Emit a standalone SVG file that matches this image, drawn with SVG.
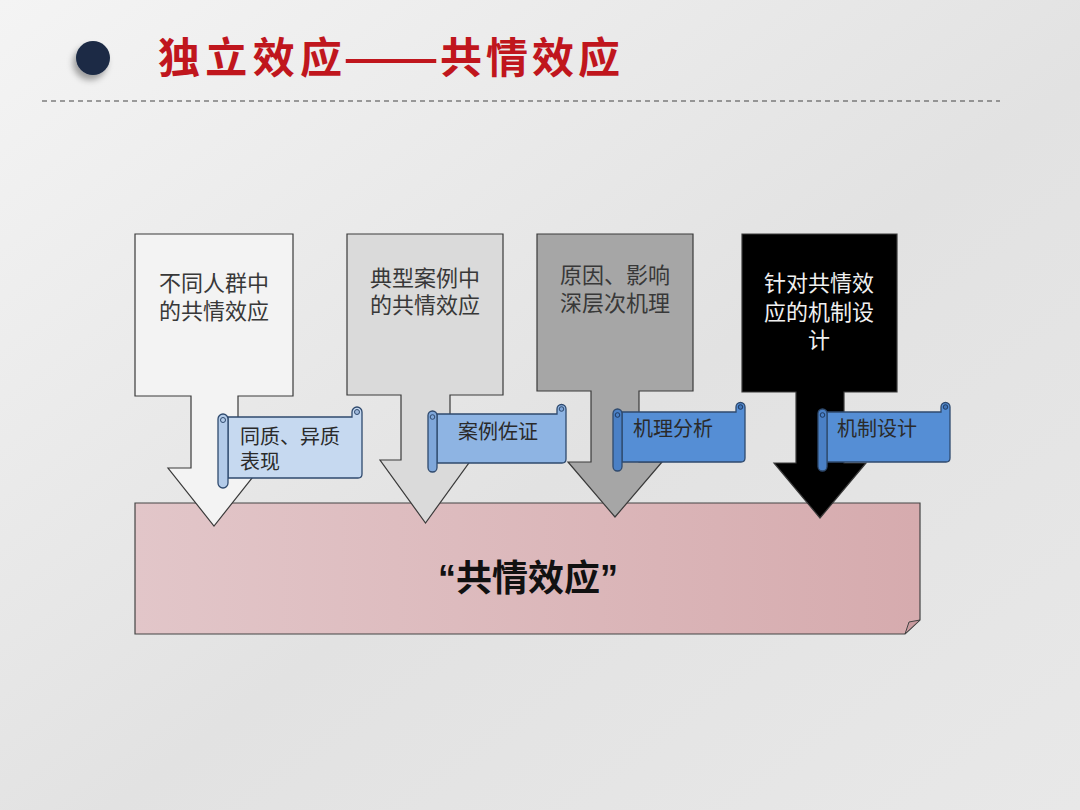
<svg xmlns="http://www.w3.org/2000/svg" width="1080" height="810" viewBox="0 0 1080 810">
<defs>
  <linearGradient id="bg" x1="0" y1="0" x2="1" y2="1">
    <stop offset="0" stop-color="#f4f4f4"/>
    <stop offset="0.55" stop-color="#e2e2e2"/>
    <stop offset="1" stop-color="#e8e8e8"/>
  </linearGradient>
  <linearGradient id="pink" x1="0" y1="0" x2="1" y2="0">
    <stop offset="0" stop-color="#e2c6c9"/>
    <stop offset="1" stop-color="#d6abae"/>
  </linearGradient>
  <filter id="sh" x="-50%" y="-50%" width="200%" height="200%">
    <feDropShadow dx="-3" dy="5" stdDeviation="3" flood-color="#000" flood-opacity="0.35"/>
  </filter>
  <style>
    .arrow{stroke:#3a3a3a;stroke-width:1.2}
    .lbl{font-family:"Noto Sans CJK SC","Noto Sans",sans-serif;font-size:22px;fill:#383838;text-anchor:middle}
    .blbl{font-family:"Noto Sans CJK SC","Noto Sans",sans-serif;font-size:20px;fill:#2a2a2a}
    .scroll{stroke:#2f4a6e;stroke-width:1.3}
    .ttl{font-family:"Noto Sans CJK SC",sans-serif;font-size:42px;font-weight:bold;fill:#c0161d}
  </style>
</defs>
<rect width="1080" height="810" fill="url(#bg)"/>

<g id="title">
  <circle cx="93" cy="58" r="17" fill="#1b2b45" filter="url(#sh)"/>
  <text class="ttl" x="158" y="73" textLength="184" lengthAdjust="spacing">独立效应</text>
  <text class="ttl" x="343" y="73" textLength="96" lengthAdjust="spacingAndGlyphs">——</text>
  <text class="ttl" x="440" y="73" textLength="180" lengthAdjust="spacing">共情效应</text>
  <line x1="42" y1="101" x2="1000" y2="101" stroke="#444" stroke-width="1.2" stroke-dasharray="5 4"/>
</g>

<g id="base">
  <path d="M135,503 H920 V620 L905,634 H135 Z" fill="url(#pink)" stroke="#444" stroke-width="1.2"/>
  <path d="M905,634 L909,622 L920,620 Z" fill="#c89a9e" stroke="#444" stroke-width="1"/>
  <text x="528" y="591" font-family="Liberation Sans, Noto Sans CJK SC, sans-serif" font-size="36" font-weight="bold" fill="#111" text-anchor="middle">“共情效应”</text>
</g>

<g id="arrow1">
  <path class="arrow" fill="#f3f3f3" d="M135,234 H293 V396 H238 V468 H260 L214,526 L168,468 H191 V396 H135 Z"/>
  <text class="lbl" x="214" y="291">不同人群中<tspan x="214" dy="28">的共情效应</tspan></text>
</g>
<g id="arrow2">
  <path class="arrow" fill="#dadada" d="M347,234 H503 V395 H450 V460 H471 L425.5,523 L380,460 H401 V395 H347 Z"/>
  <text class="lbl" x="425" y="286">典型案例中<tspan x="425" dy="27">的共情效应</tspan></text>
</g>
<g id="arrow3">
  <path class="arrow" fill="#a6a6a6" d="M537,234 H693 V391 H639 V462 H662 L615,517 L568,462 H591 V391 H537 Z"/>
  <text class="lbl" x="615" y="283">原因、影响<tspan x="615" dy="28">深层次机理</tspan></text>
</g>
<g id="arrow4">
  <path class="arrow" fill="#000" d="M742,234 H897 V392 H844 V463 H866 L820,518 L774,463 H796 V392 H742 Z"/>
  <text class="lbl" x="819" y="291" style="fill:#f0f0f0">针对共情效<tspan x="819" dy="29">应的机制设</tspan><tspan x="819" dy="28">计</tspan></text>
</g>

<g id="scroll1">
  <path class="scroll" fill="#c6d9f0" d="M228,417 H352 V412 A5,5 0 0 1 362,412 V474 Q362,478 358,478 H228 Z"/>
  <circle cx="357" cy="412" r="2.5" fill="#9fb9dc" stroke="#2f4a6e" stroke-width="1"/>
  <rect class="scroll" x="218" y="414" width="10" height="74" rx="5" fill="#b3cbe9"/>
  <circle cx="223" cy="420" r="2.5" fill="none" stroke="#2f4a6e" stroke-width="1"/>
  <text class="blbl" x="240" y="444">同质、异质<tspan x="240" dy="25">表现</tspan></text>
</g>
<g id="scroll2">
  <path class="scroll" fill="#8eb4e3" d="M437,414 H557 V409 A4.5,4.5 0 0 1 566,409 V459 Q566,463 562,463 H437 Z"/>
  <circle cx="561.5" cy="409" r="2.3" fill="#7aa2d6" stroke="#2f4a6e" stroke-width="1"/>
  <rect class="scroll" x="428" y="411" width="9" height="61" rx="4.5" fill="#7fa7da"/>
  <circle cx="432.5" cy="417" r="2.3" fill="none" stroke="#2f4a6e" stroke-width="1"/>
  <text class="blbl" x="458" y="439">案例佐证</text>
</g>
<g id="scroll3">
  <path class="scroll" fill="#558ed5" d="M622,412 H736 V407 A4.5,4.5 0 0 1 745,407 V458 Q745,462 741,462 H622 Z"/>
  <circle cx="740.5" cy="407" r="2.3" fill="#3f74b8" stroke="#1f3a60" stroke-width="1"/>
  <rect class="scroll" x="613" y="409" width="9" height="62" rx="4.5" fill="#4a80c6"/>
  <circle cx="617.5" cy="415" r="2.3" fill="none" stroke="#1f3a60" stroke-width="1"/>
  <text class="blbl" x="633" y="436">机理分析</text>
</g>
<g id="scroll4">
  <path class="scroll" fill="#558ed5" d="M827,412 H941 V407 A4.5,4.5 0 0 1 950,407 V458 Q950,462 946,462 H827 Z"/>
  <circle cx="945.5" cy="407" r="2.3" fill="#3f74b8" stroke="#1f3a60" stroke-width="1"/>
  <rect class="scroll" x="818" y="409" width="9" height="62" rx="4.5" fill="#4a80c6"/>
  <circle cx="822.5" cy="415" r="2.3" fill="none" stroke="#1f3a60" stroke-width="1"/>
  <text class="blbl" x="837" y="436">机制设计</text>
</g>
</svg>
